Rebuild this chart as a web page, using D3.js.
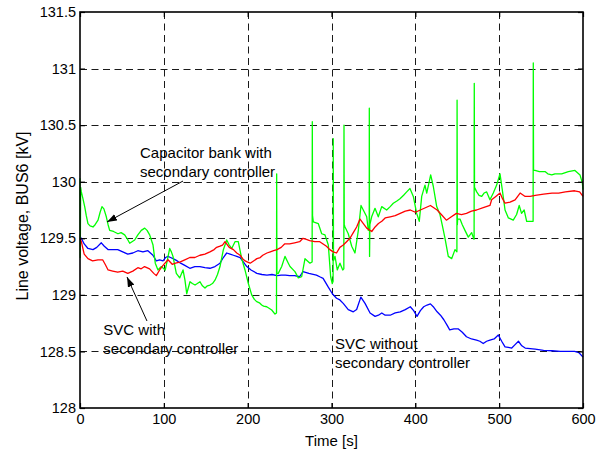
<!DOCTYPE html>
<html>
<head>
<meta charset="utf-8">
<script src="https://cdn.jsdelivr.net/npm/d3@7"></script>
<style>
  html, body { margin: 0; padding: 0; background: #fff; }
  svg { display: block; }
  text { font-family: "Liberation Sans", Arial, Helvetica, sans-serif; fill: #000; }
</style>
</head>
<body>
<svg id="chart" width="603" height="451"></svg>
<script>
// ---- data ----
const xTicks = [0, 100, 200, 300, 400, 500, 600];
const yTicks = [128, 128.5, 129, 129.5, 130, 130.5, 131, 131.5];
const yTickLabels = ["128", "128.5", "129", "129.5", "130", "130.5", "131", "131.5"];

// SVC with secondary controller (red)
const redSeries = [[0,129.50],[1.6,129.47],[5,129.36],[9.5,129.32],[15,129.30],[21.5,129.31],[27,129.31],[30,129.27],[33.5,129.22],[39,129.21],[45,129.20],[51,129.21],[57,129.19],[63,129.21],[69,129.24],[73,129.23],[77,129.25],[83,129.23],[88,129.19],[91,129.17],[95,129.22],[99,129.26],[105,129.31],[110,129.27],[114,129.28],[119,129.29],[125,129.31],[131,129.33],[137,129.33],[143,129.35],[149,129.36],[155,129.38],[160,129.40],[163,129.42],[167,129.43],[170,129.44],[173,129.47],[176,129.44],[178,129.42],[183,129.40],[187,129.37],[191,129.35],[194,129.32],[197,129.30],[200,129.29],[203,129.28],[207,129.30],[211,129.32],[215,129.33],[218,129.35],[223,129.37],[227,129.38],[231,129.39],[235,129.40],[240,129.42],[244,129.45],[250,129.45],[256,129.46],[262,129.47],[266,129.50],[270,129.49],[274,129.48],[280,129.47],[286,129.47],[290,129.45],[294,129.43],[298,129.40],[302,129.38],[306,129.37],[310,129.42],[314,129.44],[318,129.47],[322,129.50],[326,129.55],[330,129.60],[334,129.67],[338,129.63],[342,129.59],[348,129.56],[352,129.60],[356,129.63],[360,129.65],[364,129.68],[370,129.69],[376,129.70],[382,129.72],[388,129.74],[394,129.75],[400,129.73],[406,129.75],[412,129.77],[418,129.79],[422,129.77],[426,129.75],[431,129.71],[437,129.66],[443,129.69],[449,129.72],[455,129.71],[461,129.72],[467,129.74],[473,129.75],[481,129.77],[489,129.79],[491,129.84],[496,129.87],[501,129.90],[504,129.85],[507,129.81],[513,129.82],[519,129.84],[525,129.90],[531,129.87],[537,129.87],[543,129.88],[553,129.89],[563,129.90],[571,129.90],[579,129.91],[590,129.92],[596,129.91],[600,129.87]];

// SVC without secondary controller (blue)
const blueSeries = [[0,129.51],[1.6,129.50],[5,129.45],[9.5,129.41],[15.5,129.40],[20,129.42],[25.4,129.46],[29,129.43],[33.4,129.40],[39,129.40],[45,129.40],[51,129.38],[57,129.36],[63,129.37],[69,129.39],[75,129.38],[81,129.39],[84,129.37],[87,129.35],[91,129.30],[95,129.31],[99,129.30],[102,129.33],[105,129.34],[108,129.33],[111,129.32],[116,129.30],[120,129.28],[125,129.26],[131,129.235],[137,129.25],[143,129.25],[149,129.24],[155,129.235],[161,129.25],[167,129.28],[171,129.33],[175,129.37],[179,129.36],[183,129.35],[187,129.34],[191,129.33],[195,129.29],[199,129.25],[204,129.22],[211,129.19],[217,129.18],[223,129.175],[229,129.18],[235,129.17],[240,129.175],[245,129.175],[250,129.17],[256,129.17],[262,129.16],[266,129.205],[273,129.19],[282,129.175],[286,129.16],[290,129.146],[296,129.07],[301,129.01],[306,128.97],[310,128.955],[314,128.925],[320,128.87],[326,128.85],[330,128.87],[335,128.98],[340,128.925],[346,128.84],[352,128.81],[356,128.82],[360,128.84],[364,128.82],[370,128.82],[376,128.84],[382,128.85],[388,128.87],[394,128.895],[398,128.86],[402,128.81],[406,128.86],[410,128.895],[414,128.91],[418,128.92],[422,128.89],[426,128.85],[430,128.82],[434,128.78],[438,128.73],[441,128.69],[446,128.70],[451,128.70],[456,128.67],[461,128.63],[467,128.61],[473,128.60],[477,128.59],[481,128.57],[485,128.59],[489,128.60],[494,128.61],[499,128.645],[503,128.59],[507,128.54],[511,128.535],[515,128.53],[519,128.56],[523,128.59],[527,128.55],[531,128.53],[537,128.525],[543,128.52],[553,128.51],[563,128.506],[573,128.50],[582,128.50],[590,128.50],[595,128.49],[600,128.45]];

// Capacitor bank with secondary controller (green)
const greenSeries = [[0,130.03],[0.3,129.33],[0.8,129.95],[1.6,129.91],[3.5,129.85],[5.6,129.78],[7.5,129.70],[9.5,129.63],[12,129.61],[15.5,129.60],[18,129.62],[21.5,129.66],[24,129.73],[26.2,129.78],[28.5,129.76],[31.4,129.69],[33.5,129.62],[35.4,129.57],[40,129.56],[45.3,129.54],[49,129.55],[53.3,129.53],[56,129.50],[59.3,129.456],[62,129.47],[65.2,129.485],[69,129.53],[73.1,129.57],[77.2,129.59],[80,129.57],[83.1,129.53],[87.1,129.44],[89.8,129.28],[93,129.22],[97,129.25],[101.7,129.22],[104,129.30],[107,129.41],[109,129.38],[110.9,129.34],[114.9,129.19],[118.9,129.15],[122.9,129.22],[125.2,129.13],[127.3,129.01],[131.2,129.116],[134,129.10],[137.2,129.087],[140,129.10],[143.1,129.116],[146,129.08],[149.1,129.06],[152,129.08],[155.1,129.087],[158,129.10],[161,129.13],[164,129.18],[167,129.25],[170.9,129.396],[175,129.485],[178,129.44],[181,129.41],[184.9,129.47],[188.8,129.47],[192.9,129.32],[196.8,129.22],[200.8,129.10],[204.8,129.00],[208,128.96],[210.8,128.94],[214,128.93],[216.7,128.91],[219,128.90],[222.7,128.895],[226,128.88],[228.7,128.866],[232.6,128.83],[234.4,128.84],[234.6,130.07],[234.9,129.19],[236.5,129.19],[240.6,129.25],[244.5,129.34],[248.5,129.28],[250.5,129.25],[256.4,129.205],[260.4,129.15],[264.4,129.16],[268.4,129.32],[274.3,129.28],[276.9,129.29],[277.1,130.53],[277.4,129.70],[278.3,129.646],[284.2,129.63],[288.3,129.54],[292.2,129.53],[296.2,129.44],[299,129.16],[300.9,129.10],[301.9,129.12],[302.1,130.38],[302.4,129.30],[304.2,129.34],[306.9,129.22],[310.1,129.28],[313.4,129.22],[314.7,129.23],[314.9,130.50],[315.2,129.62],[316.1,129.60],[320,129.54],[324.1,129.43],[328,129.37],[332,129.57],[335.2,129.79],[337.9,129.75],[342,129.69],[343.9,129.57],[345.0,129.60],[345.1,130.65],[345.4,129.34],[345.8,129.62],[347.9,129.69],[351.9,129.765],[355.8,129.69],[359.9,129.78],[365.8,129.75],[370,129.78],[373.7,129.81],[378,129.83],[381.7,129.85],[386,129.88],[389.7,129.91],[393.6,129.94],[397.6,129.87],[401.6,129.72],[404.7,129.65],[407.6,129.87],[411.5,129.97],[413.6,129.90],[416,129.98],[418.3,130.06],[421.4,129.96],[425.5,129.78],[429.4,129.71],[432,129.62],[435.4,129.50],[439.3,129.34],[443.4,129.32],[447.3,129.40],[449.6,129.38],[449.8,130.72],[450.1,129.62],[450.5,129.67],[453.3,129.67],[456,129.62],[459.2,129.57],[463.2,129.51],[467.2,129.55],[469.9,129.49],[470.1,129.50],[470.3,130.87],[470.6,129.95],[473.2,129.91],[476,129.88],[479.2,129.87],[482,129.90],[485.1,129.91],[489,129.84],[493,129.90],[497,129.97],[501,130.07],[503.7,129.93],[507,129.75],[511,129.68],[516.8,129.66],[520.8,129.71],[523.9,129.79],[526.7,129.72],[529.8,129.75],[532.8,129.65],[538.8,129.65],[540.5,129.65],[540.7,131.05],[541.0,130.10],[542.7,130.10],[548,130.09],[554.7,130.09],[558,130.07],[562.7,130.06],[566.6,130.07],[574.6,130.07],[582.5,130.09],[590.4,130.10],[596.4,130.06],[599.2,129.99],[600,129.93]];

const seriesNames = ["Capacitor bank with secondary controller", "SVC without secondary controller", "SVC with secondary controller"];

// annotation texts (positions in data units)
const annotations = [
  { lines: ["Capacitor bank with", "secondary controller"], t: 71.6, v: 130.21 },
  { lines: ["SVC with", "secondary controller"], t: 27.8, v: 128.645 },
  { lines: ["SVC without", "secondary controller"], t: 304.2, v: 128.521 }
];
const arrows = [
  { from: [122.9, 130.006], to: [32.2, 129.644] },
  { from: [79.9, 128.769], to: [56.1, 129.158] }
];

// ---- layout ----
const svg = d3.select("#chart");
const L = 80, R = 583, T = 12, B = 408;
const x = d3.scaleLinear().domain([0, 600]).range([L, R]);
const y = d3.scaleLinear().domain([128, 131.5]).range([B, T]);

// grid
const grid = svg.append("g").attr("stroke", "#1a1a1a").attr("stroke-width", 1).attr("stroke-dasharray", "7,4.5").attr("fill", "none");
grid.selectAll("line.h").data(yTicks.filter(d => d > 128 && d < 131.5)).enter().append("line")
  .attr("x1", L).attr("x2", R).attr("y1", d => Math.round(y(d)) + 0.5).attr("y2", d => Math.round(y(d)) + 0.5);
grid.selectAll("line.v").data(xTicks.filter(d => d > 0 && d < 600)).enter().append("line")
  .attr("y1", T).attr("y2", B).attr("x1", d => Math.round(x(d)) + 0.5).attr("x2", d => Math.round(x(d)) + 0.5);

// lines
const line = d3.line().x(d => x(d[0])).y(d => y(d[1]));
const plot = svg.append("g");
const drawn = [
  { data: blueSeries, color: "#0000ff" },
  { data: greenSeries, color: "#00ff00" },
  { data: redSeries, color: "#ff0000" }
];
drawn.forEach(s => {
  plot.append("path").datum(s.data).attr("d", line)
    .attr("fill", "none").attr("stroke", s.color).attr("stroke-width", 1.3)
    .attr("stroke-linejoin", "round");
});

// axes
const fmtY = d => yTickLabels[yTicks.indexOf(d)];
const axL = svg.append("g").attr("transform", `translate(${L},0)`)
  .call(d3.axisLeft(y).tickValues(yTicks).tickFormat(fmtY).tickSize(-5).tickPadding(4));
const axB = svg.append("g").attr("transform", `translate(0,${B})`)
  .call(d3.axisBottom(x).tickValues(xTicks).tickFormat(d3.format("d")).tickSize(-5).tickPadding(6));
const axR = svg.append("g").attr("transform", `translate(${R},0)`)
  .call(d3.axisRight(y).tickValues(yTicks).tickFormat("").tickSize(-5));
const axT = svg.append("g").attr("transform", `translate(0,${T})`)
  .call(d3.axisTop(x).tickValues(xTicks).tickFormat("").tickSize(-5));
[axL, axB, axR, axT].forEach(a => {
  a.select(".domain").remove();
  a.selectAll(".tick line").attr("stroke", "#000").attr("stroke-width", 1.2);
  a.selectAll("text").attr("font-size", "14.5px").attr("fill", "#000")
    .attr("font-family", "'Liberation Sans', Arial, sans-serif");
});

// frame
svg.append("rect").attr("x", L).attr("y", T).attr("width", R - L).attr("height", B - T)
  .attr("fill", "none").attr("stroke", "#000").attr("stroke-width", 1.6);

// axis titles
svg.append("text").attr("x", (L + R) / 2).attr("y", 446).attr("text-anchor", "middle")
  .attr("font-size", "15px").text("Time [s]");
svg.append("text").attr("transform", "translate(27.5,216) rotate(-90)").attr("text-anchor", "middle")
  .attr("font-size", "16px").text("Line voltage, BUS6 [kV]");

// annotations
const defs = svg.append("defs");
defs.append("marker").attr("id", "ah").attr("viewBox", "0 0 10 7").attr("refX", 10).attr("refY", 3.5)
  .attr("markerWidth", 10).attr("markerHeight", 7).attr("markerUnits", "userSpaceOnUse").attr("orient", "auto")
  .append("path").attr("d", "M0,0 L10,3.5 L0,7 Z").attr("fill", "#000");
arrows.forEach(a => {
  svg.append("line").attr("x1", x(a.from[0])).attr("y1", y(a.from[1]))
    .attr("x2", x(a.to[0])).attr("y2", y(a.to[1]))
    .attr("stroke", "#000").attr("stroke-width", 1).attr("marker-end", "url(#ah)");
});
annotations.forEach(a => {
  const t = svg.append("text").attr("x", x(a.t)).attr("y", y(a.v)).attr("font-size", "15px");
  a.lines.forEach((ln, i) => {
    t.append("tspan").attr("x", x(a.t)).attr("dy", i === 0 ? 0 : 19).text(ln);
  });
});
</script>
</body>
</html>
